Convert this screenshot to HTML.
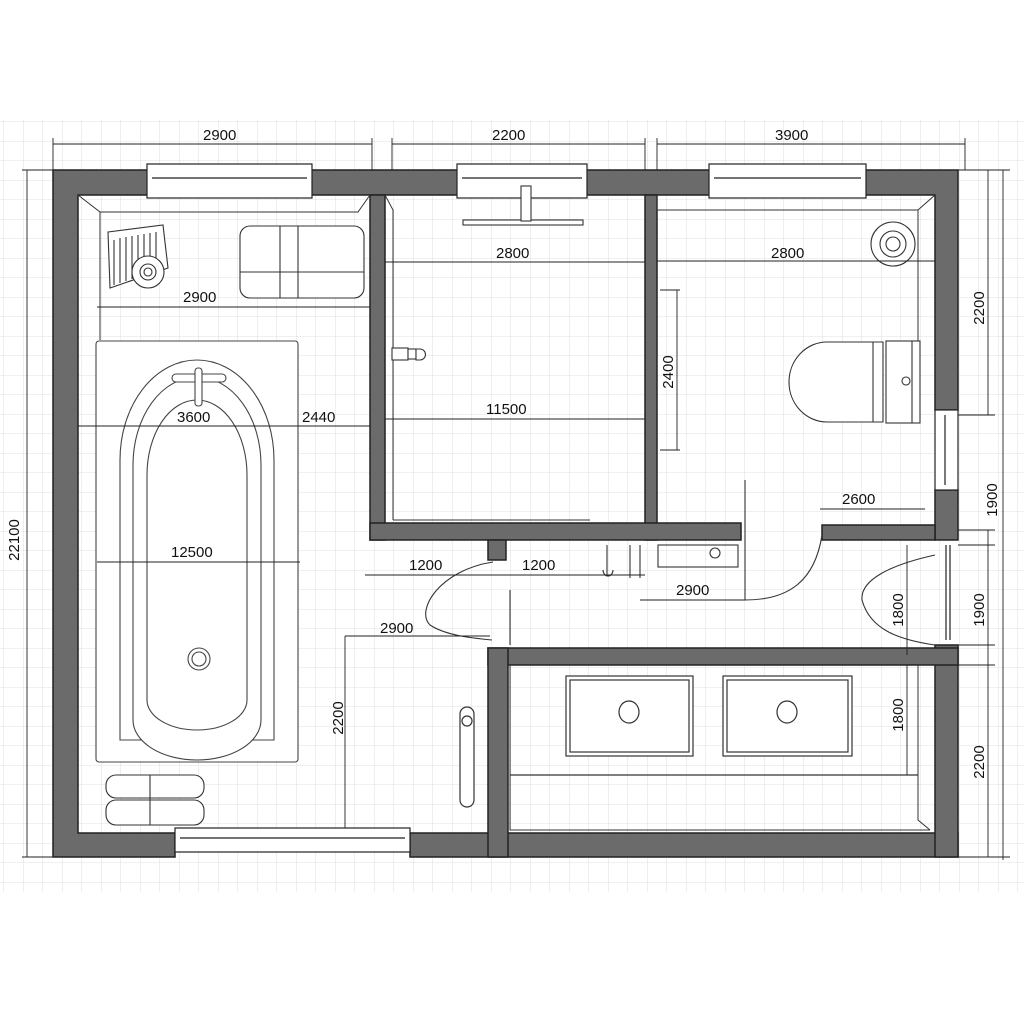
<!DOCTYPE html>
<html><head><meta charset="utf-8"><style>
html,body{margin:0;padding:0;background:#fff}
svg{display:block}
text{font-family:"Liberation Sans",sans-serif;font-size:15px;fill:#111}
</style></head><body>
<svg width="1024" height="1024" viewBox="0 0 1024 1024" xmlns="http://www.w3.org/2000/svg">
<defs>
<pattern id="g" width="19.5" height="19.5" patternUnits="userSpaceOnUse" x="4" y="122">
<path d="M19.5 0V19.5H0" fill="none" stroke="#d6d6d6" stroke-width="0.8"/>
</pattern>
</defs>
<rect width="1024" height="1024" fill="#fff"/>
<rect x="0" y="120" width="1024" height="772" fill="url(#g)"/>

<!-- walls -->
<g fill="#6b6b6b" stroke="#222" stroke-width="1.5">
<path d="M53 170H958V410H935V195H78V833H175V857H53Z"/>
<rect x="410" y="833" width="548" height="24"/>
<rect x="935" y="490" width="23" height="50"/>
<rect x="935" y="645" width="23" height="212"/>
<rect x="370" y="195" width="15" height="345"/>
<rect x="645" y="195" width="12" height="345"/>
<rect x="370" y="523" width="371" height="17"/>
<rect x="488" y="540" width="18" height="20"/>
<rect x="822" y="525" width="113" height="15"/>
<rect x="488" y="648" width="470" height="17"/>
<rect x="488" y="648" width="20" height="209"/>
</g>
<!-- windows -->
<g fill="#fff" stroke="#222" stroke-width="1.2">
<rect x="147" y="164" width="165" height="34"/><line x1="152" y1="178" x2="307" y2="178"/>
<rect x="457" y="164" width="130" height="34"/><line x1="462" y1="178" x2="582" y2="178"/>
<rect x="709" y="164" width="157" height="34"/><line x1="714" y1="178" x2="861" y2="178"/>
<rect x="175" y="828" width="235" height="24"/><line x1="180" y1="838" x2="405" y2="838"/>
<rect x="935" y="410" width="23" height="80"/><line x1="945" y1="415" x2="945" y2="485"/>
<line x1="946" y1="545" x2="946" y2="640"/><line x1="950" y1="545" x2="950" y2="640"/>
</g>
<!-- room inner bevels -->
<g fill="none" stroke="#333" stroke-width="1">
<path d="M78 195L100 212H358L370 195M100 212V340"/>
<path d="M385 195L393 210V520M657 195V210H918L935 195M918 210V410"/>
<path d="M510 665V830H930M918 665V820L930 830"/>
</g>
<!-- bathtub -->
<g fill="#fff" stroke="#444" stroke-width="1.1">
<rect x="96" y="341" width="202" height="421" rx="3"/>
<path d="M120 740V460A77 100 0 0 1 274 460V740Z" fill="none"/>
<path d="M133 720V465A64 88 0 0 1 261 465V720A64 40 0 0 1 133 720Z"/>
<path d="M147 700V475A50 75 0 0 1 247 475V700A50 30 0 0 1 147 700Z"/>
<circle cx="199" cy="659" r="11"/><circle cx="199" cy="659" r="7"/>
<rect x="172" y="374" width="54" height="8" rx="4"/><rect x="195" y="368" width="7" height="38" rx="3"/>
</g>
<!-- laundry basket, towels -->
<g fill="#fff" stroke="#333" stroke-width="1.1">
<path d="M108 232L163 225L168 268L110 288Z"/>
<path d="M114 240V285M120 238V283M126 237V281M132 236V279M138 235V277M144 234V275M150 233V272M156 232V270"/>
<circle cx="148" cy="272" r="16"/><circle cx="148" cy="272" r="8"/><circle cx="148" cy="272" r="4"/>
<rect x="240" y="226" width="124" height="72" rx="10"/><line x1="240" y1="272" x2="364" y2="272"/>
<line x1="280" y1="226" x2="280" y2="298"/><line x1="298" y1="226" x2="298" y2="298"/>
<rect x="106" y="775" width="98" height="23" rx="10"/><rect x="106" y="800" width="98" height="25" rx="10"/>
<line x1="150" y1="775" x2="150" y2="825"/>
</g>
<!-- shower -->
<g fill="#fff" stroke="#333" stroke-width="1.1">
<rect x="463" y="220" width="120" height="5"/><rect x="521" y="186" width="10" height="35"/>
<rect x="392" y="348" width="16" height="12"/><rect x="408" y="349" width="8" height="10"/><path d="M416 349H420A5 5 0 0 1 420 360H416Z"/>
<line x1="393" y1="520" x2="590" y2="520"/>
</g>
<!-- WC -->
<g fill="#fff" stroke="#333" stroke-width="1.1">
<circle cx="893" cy="244" r="22"/><circle cx="893" cy="244" r="13"/><circle cx="893" cy="244" r="7"/>
<path d="M883 342H827A38 40 0 0 0 827 422H883Z"/><path d="M873 342V422"/>
<rect x="886" y="341" width="34" height="82"/><line x1="912" y1="341" x2="912" y2="423"/><circle cx="906" cy="381" r="4"/>
</g>
<!-- vanity -->
<g fill="#fff" stroke="#333" stroke-width="1.2">
<line x1="510" y1="775" x2="918" y2="775"/>
<rect x="566" y="676" width="127" height="80"/><rect x="570" y="680" width="119" height="72"/>
<rect x="723" y="676" width="129" height="80"/><rect x="727" y="680" width="121" height="72"/>
<ellipse cx="629" cy="712" rx="10" ry="11"/><ellipse cx="787" cy="712" rx="10" ry="11"/>
<rect x="460" y="707" width="14" height="100" rx="7"/><circle cx="467" cy="721" r="5"/>
</g>
<!-- doors -->
<g fill="none" stroke="#333" stroke-width="1.1">
<path d="M493 562C440 570 415 610 430 625C445 635 470 638 492 640"/>
<path d="M745 480V600M745 600C790 600 815 580 822 535"/>
<path d="M935 555C890 565 860 580 862 600C870 630 900 640 935 645"/>
<line x1="510" y1="590" x2="510" y2="645"/>
<rect x="658" y="545" width="80" height="22"/><circle cx="715" cy="553" r="5"/>
<path d="M607 545V575M603 570A5 6 0 0 0 613 570"/>
<path d="M630 545V578M640 545V578"/>
</g>
<!-- dimension lines -->
<g fill="none" stroke="#222" stroke-width="0.9">
<line x1="53" y1="144" x2="372" y2="144"/><line x1="392" y1="144" x2="645" y2="144"/><line x1="657" y1="144" x2="965" y2="144"/>
<line x1="53" y1="138" x2="53" y2="170"/><line x1="372" y1="138" x2="372" y2="170"/><line x1="392" y1="138" x2="392" y2="170"/><line x1="645" y1="138" x2="645" y2="170"/><line x1="657" y1="138" x2="657" y2="170"/><line x1="965" y1="138" x2="965" y2="170"/>
<line x1="27" y1="170" x2="27" y2="857"/><line x1="22" y1="170" x2="53" y2="170"/><line x1="22" y1="857" x2="53" y2="857"/>
<line x1="97" y1="307" x2="370" y2="307"/>
<line x1="78" y1="426" x2="370" y2="426"/><line x1="97" y1="562" x2="300" y2="562"/>
<line x1="385" y1="262" x2="645" y2="262"/><line x1="385" y1="419" x2="645" y2="419"/>
<line x1="657" y1="261" x2="935" y2="261"/>
<line x1="677" y1="290" x2="677" y2="450"/><line x1="660" y1="290" x2="680" y2="290"/><line x1="660" y1="450" x2="680" y2="450"/>
<line x1="820" y1="509" x2="925" y2="509"/>
<line x1="365" y1="575" x2="645" y2="575"/>
<line x1="640" y1="600" x2="745" y2="600"/>
<line x1="345" y1="636" x2="490" y2="636"/><line x1="345" y1="636" x2="345" y2="828"/>
<line x1="907" y1="545" x2="907" y2="655"/><line x1="907" y1="665" x2="907" y2="775"/>
<line x1="988" y1="170" x2="988" y2="415"/><line x1="988" y1="530" x2="988" y2="665"/><line x1="988" y1="665" x2="988" y2="857"/>
<line x1="1003" y1="170" x2="1003" y2="860"/>
<line x1="958" y1="170" x2="1010" y2="170"/><line x1="958" y1="415" x2="995" y2="415"/><line x1="958" y1="530" x2="995" y2="530"/><line x1="958" y1="545" x2="995" y2="545"/><line x1="958" y1="645" x2="995" y2="645"/><line x1="958" y1="665" x2="995" y2="665"/><line x1="958" y1="857" x2="1010" y2="857"/>
</g>
<!-- labels -->
<text x="203" y="140">2900</text><text x="492" y="140">2200</text><text x="775" y="140">3900</text>
<text x="183" y="302">2900</text><text x="177" y="422">3600</text><text x="302" y="422">2440</text>
<text x="171" y="557">12500</text>
<text x="496" y="258">2800</text><text x="486" y="414">11500</text><text x="771" y="258">2800</text>
<text x="842" y="504">2600</text>
<text x="409" y="570">1200</text><text x="522" y="570">1200</text><text x="676" y="595">2900</text><text x="380" y="633">2900</text>
<text transform="translate(19,540) rotate(-90)" text-anchor="middle">22100</text>
<text transform="translate(673,372) rotate(-90)" text-anchor="middle">2400</text>
<text transform="translate(343,718) rotate(-90)" text-anchor="middle">2200</text>
<text transform="translate(903,610) rotate(-90)" text-anchor="middle">1800</text>
<text transform="translate(903,715) rotate(-90)" text-anchor="middle">1800</text>
<text transform="translate(984,308) rotate(-90)" text-anchor="middle">2200</text>
<text transform="translate(997,500) rotate(-90)" text-anchor="middle">1900</text>
<text transform="translate(984,610) rotate(-90)" text-anchor="middle">1900</text>
<text transform="translate(984,762) rotate(-90)" text-anchor="middle">2200</text>
</svg>
</body></html>
